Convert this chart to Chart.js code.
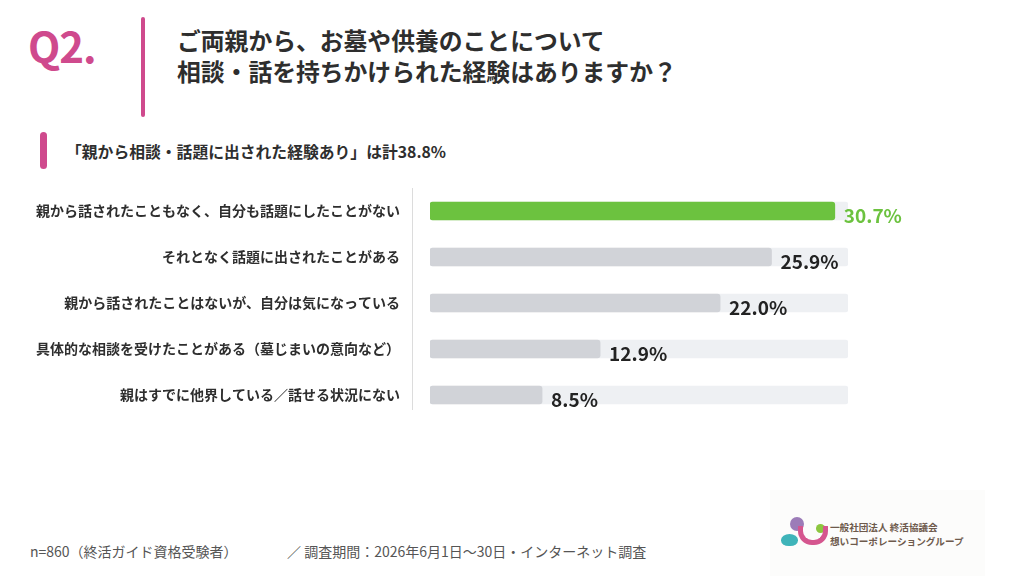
<!DOCTYPE html>
<html lang="ja">
<head>
<meta charset="utf-8">
<script src="https://cdn.jsdelivr.net/npm/chart.js@4.4.1/dist/chart.umd.min.js"></script>
<style>
  html, body { margin: 0; padding: 0; background: #fff; }
  body { width: 1024px; height: 576px; position: relative; overflow: hidden;
         font-family: "Noto Sans CJK JP", "Noto Sans", sans-serif; color: #333; }
  .abs { position: absolute; white-space: nowrap; }
  #q { left: 28px; top: 24px; font-size: 42px; font-weight: 700; color: #cf4a8d; letter-spacing: -1px; line-height: 1; }
  #qline { left: 141px; top: 17px; width: 4px; height: 100px; background: #cf4a8d; border-radius: 2px; }
  #title { left: 177px; top: 24px; font-size: 23.8px; font-weight: 700; line-height: 31px; color: #2e2e2e; }
  #subbar { left: 40px; top: 132px; width: 7px; height: 37px; background: #cf4a8d; border-radius: 4px; }
  #sub { left: 66px; top: 141px; font-size: 15.8px; font-weight: 700; color: #2e2e2e; line-height: 22px; }
  #wrap { left: 0; top: 188px; width: 1024px; height: 230px; }
  #chart { display: block; }
  .foot { top: 541px; font-size: 14px; color: #555; line-height: 20px; }
  #logo { left: 770px; top: 490px; width: 215px; height: 86px; background: #fcfcfb; }
  .dot { position: absolute; border-radius: 50%; }
  .logotxt { position: absolute; left: 60px; font-size: 9.6px; font-weight: 700; color: #6e5a4c; line-height: 13px; white-space: nowrap; }
</style>
</head>
<body>
<div class="abs" id="q">Q2.</div>
<div class="abs" id="qline"></div>
<div class="abs" id="title">ご両親から、お墓や供養のことについて<br>相談・話を持ちかけられた経験はありますか？</div>
<div class="abs" id="subbar"></div>
<div class="abs" id="sub">「親から相談・話題に出された経験あり」は計38.8%</div>
<div class="abs" id="wrap"><canvas id="chart" width="1024" height="230"></canvas></div>
<div class="abs foot" style="left:30px;">n=860（終活ガイド資格受験者）</div>
<div class="abs foot" style="left:287px;">／ 調査期間：2026年6月1日〜30日・インターネット調査</div>
<div class="abs" id="logo">
  <div class="dot" style="left:20px;top:27px;width:14px;height:14px;background:#9c7cb8;"></div>
  <div class="dot" style="left:46px;top:34px;width:9px;height:9px;background:#8cc63f;"></div>
  <div class="dot" style="left:11px;top:44px;width:17px;height:12px;background:#3fb4b9;border-radius:50% 50% 45% 45%;"></div>
  <div style="position:absolute;left:28px;top:36px;width:20px;height:14px;border:5px solid #d5568f;border-top:none;border-radius:0 0 14px 14px;"></div>
  <div class="logotxt" style="top:31px;">一般社団法人 終活協議会</div>
  <div class="logotxt" style="top:45px;">想いコーポレーショングループ</div>
</div>

<script>
const categories = [
  '親から話されたこともなく、自分も話題にしたことがない',
  'それとなく話題に出されたことがある',
  '親から話されたことはないが、自分は気になっている',
  '具体的な相談を受けたことがある（墓じまいの意向など）',
  '親はすでに他界している／話せる状況にない'
];
const values = [30.7, 25.9, 22.0, 12.9, 8.5];
const trackMax = 31.7;
const trackValues = categories.map(() => trackMax);
const barColors = ['#6cc23f', '#d1d3d8', '#d1d3d8', '#d1d3d8', '#d1d3d8'];
const labelColors = ['#6cc23f', '#222', '#222', '#222', '#222'];

const valueLabels = {
  id: 'valueLabels',
  afterDatasetsDraw(chart) {
    const { ctx } = chart;
    const meta = chart.getDatasetMeta(0);
    ctx.save();
    ctx.font = '700 19px "Noto Sans CJK JP", "Noto Sans", sans-serif';
    ctx.textBaseline = 'middle';
    ctx.textAlign = 'left';
    meta.data.forEach((bar, i) => {
      ctx.fillStyle = labelColors[i];
      ctx.fillText(values[i].toFixed(1) + '%', bar.x + 9, bar.y + 5);
    });
    ctx.restore();
  }
};

const sepLine = {
  id: 'sepLine',
  beforeDatasetsDraw(chart) {
    const { ctx, chartArea } = chart;
    ctx.save();
    ctx.strokeStyle = '#dcdcdc';
    ctx.lineWidth = 1;
    ctx.beginPath();
    ctx.moveTo(chartArea.left - 17.5, chartArea.top - 8);
    ctx.lineTo(chartArea.left - 17.5, chartArea.bottom - 8);
    ctx.stroke();
    ctx.restore();
  }
};

new Chart(document.getElementById('chart'), {
  type: 'bar',
  data: {
    labels: categories,
    datasets: [
      {
        data: values,
        backgroundColor: barColors,
        barThickness: 18,
        borderRadius: 3,
        borderSkipped: false,
        grouped: false,
        order: 0
      },
      {
        data: trackValues,
        backgroundColor: '#eef0f3',
        barThickness: 18,
        borderRadius: 3,
        borderSkipped: false,
        grouped: false,
        order: 1
      }
    ]
  },
  options: {
    indexAxis: 'y',
    responsive: false,
    animation: false,
    layout: { padding: { left: 0, right: 176, top: 0, bottom: 0 } },
    plugins: {
      legend: { display: false },
      tooltip: { enabled: false }
    },
    scales: {
      x: {
        display: false,
        min: 0,
        max: trackMax
      },
      y: {
        afterFit: s => {
          s.width = 430;
          s.paddingTop = 0;
          s.paddingBottom = 0;
        },
        grid: { display: false, drawTicks: false },
        border: { display: false },
        ticks: {
          padding: 30,
          color: '#2e2e2e',
          font: { family: '"Noto Sans CJK JP", "Noto Sans", sans-serif', size: 14, weight: '700' }
        }
      }
    }
  },
  plugins: [sepLine, valueLabels]
});
</script>
</body>
</html>
